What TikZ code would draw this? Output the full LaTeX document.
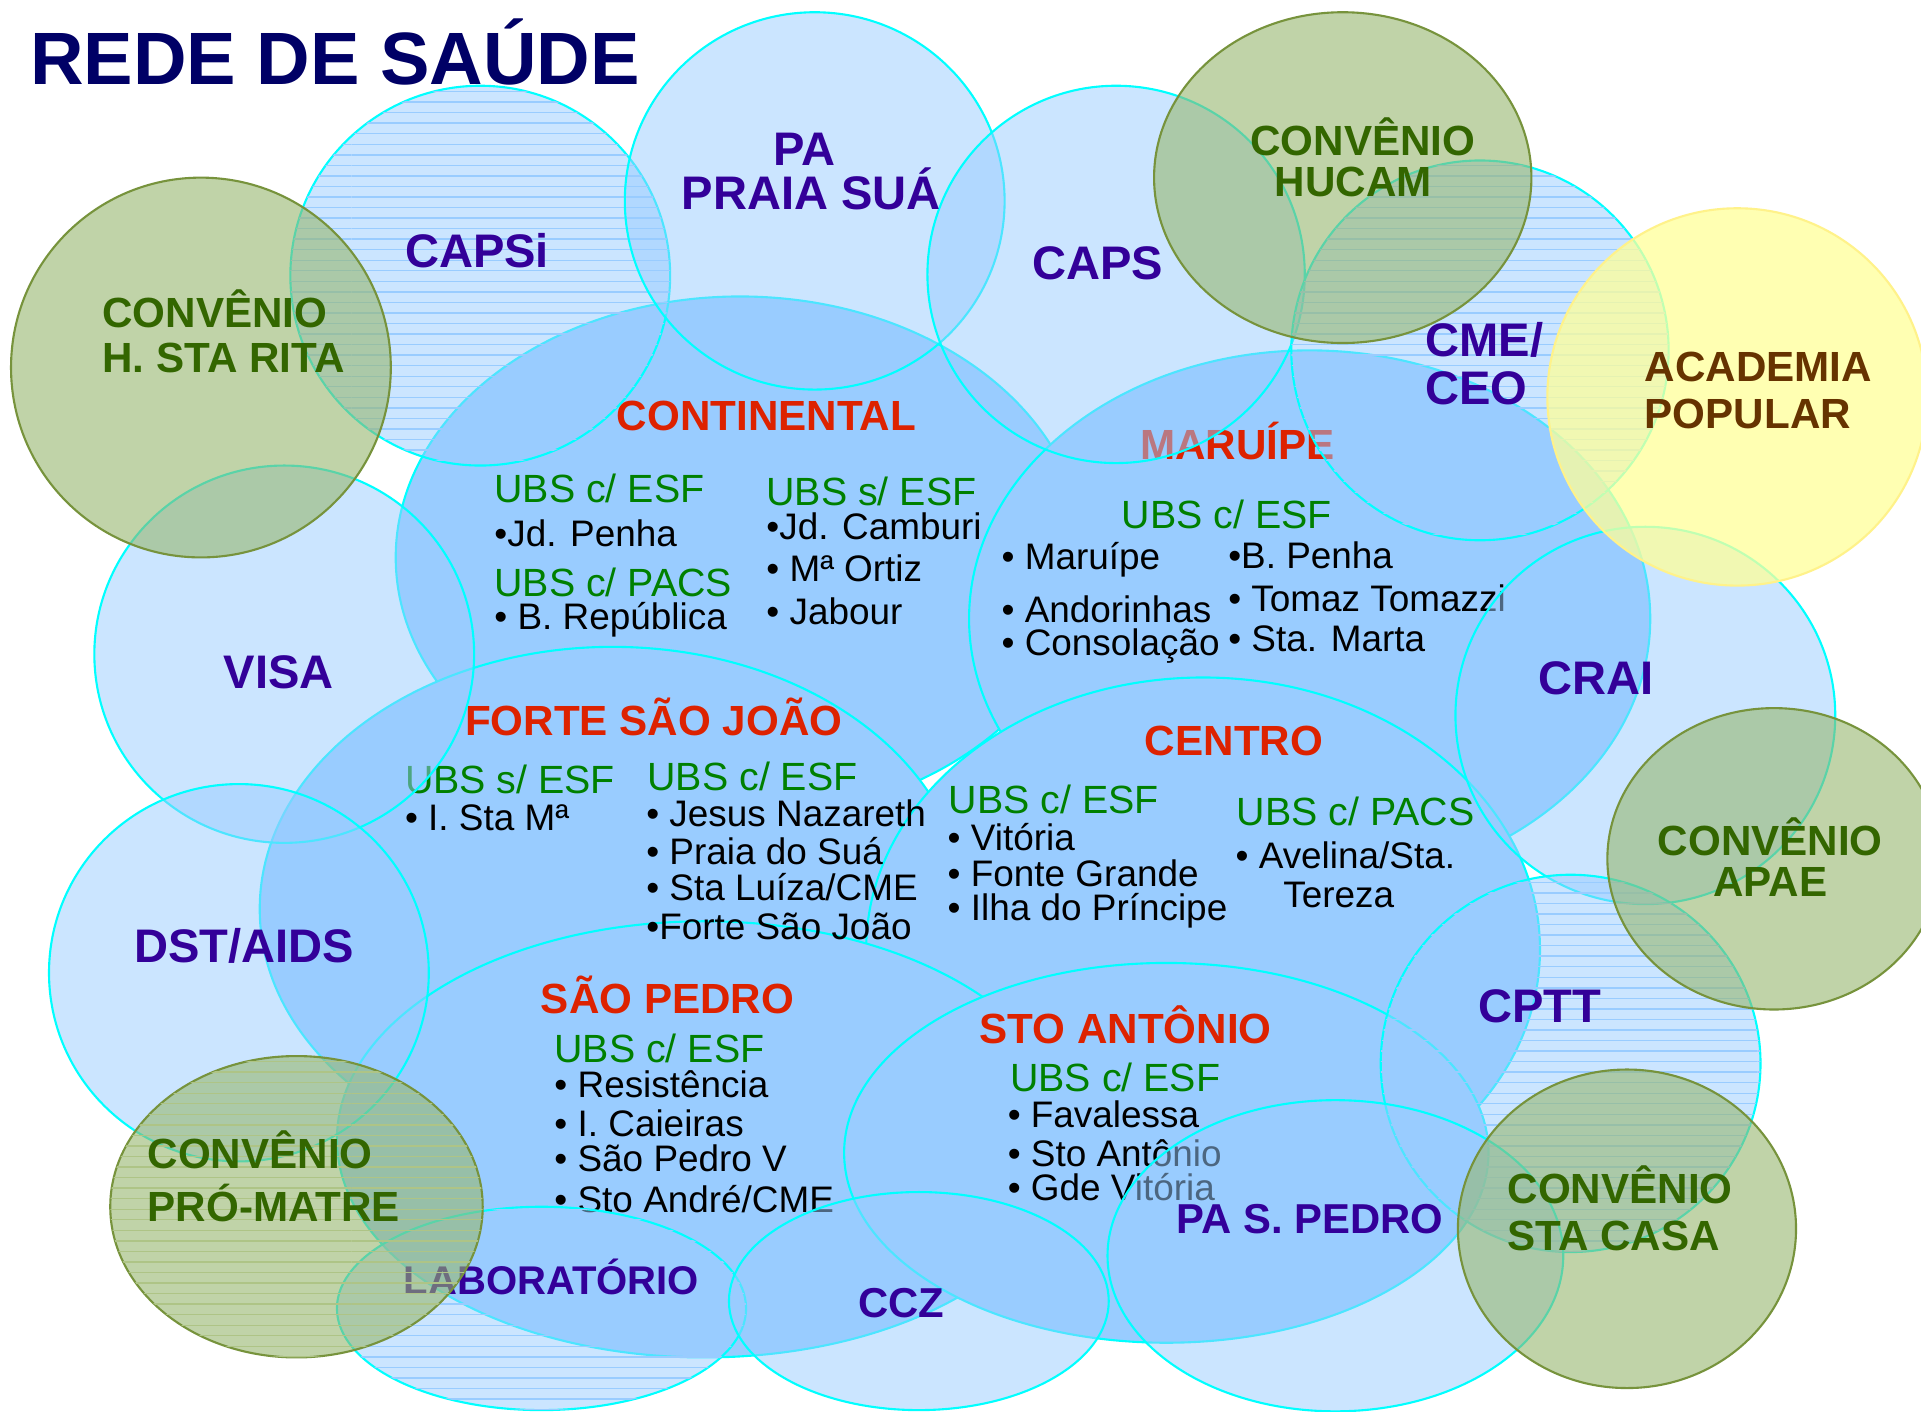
\documentclass[tikz,border=0pt]{standalone}
\usepackage{fontspec}
\setmainfont{Liberation Sans}
\usetikzlibrary{patterns}

\definecolor{skyb}{HTML}{99CCFF}
\definecolor{ringc}{HTML}{00FFFF}
\definecolor{navy}{HTML}{000066}
\definecolor{svcc}{HTML}{330099}
\definecolor{distc}{HTML}{DD2200}
\definecolor{ubsc}{HTML}{008000}
\definecolor{convc}{HTML}{336600}
\definecolor{acadc}{HTML}{663300}
\definecolor{olivef}{HTML}{96B76E}
\definecolor{olived}{HTML}{77933C}
\definecolor{olivel}{HTML}{AEC486}
\definecolor{lemon}{HTML}{FFFF99}
\newcommand{\fsz}[1]{\fontsize{#1pt}{#1pt}\selectfont}

\begin{document}
\begin{tikzpicture}[x=0.12251mm, y=-0.12251mm,
	dist/.style={fill=skyb, draw=ringc, line width=.6pt},
	svc/.style={fill=skyb, fill opacity=.5, draw=ringc, line width=.6pt},
	lined/.style={postaction={pattern=horizontal lines, pattern color=skyb, fill opacity=.5}},
	conv/.style={fill=olivef, fill opacity=.6, draw=olived, line width=.6pt},
	acad/.style={fill=lemon, fill opacity=.75, draw=lemon!90!orange, line width=.6pt},
	dname/.style={anchor=base west, inner sep=0pt, text=distc, font=\bfseries\fsz{12}},
	ubs/.style={anchor=base west, inner sep=0pt, text=ubsc, font=\fsz{11.2}},
	item/.style={anchor=base west, inner sep=0pt, font=\fsz{10.5}},
	sname/.style={anchor=base west, inner sep=0pt, text=svcc, font=\bfseries\fsz{13.4}},
	cname/.style={anchor=base west, inner sep=0pt, text=convc, font=\bfseries\fsz{12}}]
	\fill[white] (0,0) rectangle (1568,1152);
	\useasboundingbox (0,0) rectangle (1568,1152);

	% regioes
	\foreach \cx/\cy/\rx/\ry in {604/455/281/213, 1069/505/278/219, 500/742/288/214,
		982/775/275/222, 575/930/300/178, 952/941/263/155}
		\draw[dist] (\cx,\cy) ellipse [x radius=\rx, y radius=\ry];

	\node[dname] (contT) at (503,351) {CONTINENTAL};
	\node[ubs] (contU1) at (403,410) {UBS c/ ESF};
	\node[item] (contA1) at (403,446) {\textbullet Jd. Penha};
	\node[ubs] (contU2) at (403,487) {UBS c/ PACS};
	\node[item] (contA2) at (403,514) {\textbullet\ B. República};
	\node[ubs] (contU3) at (625,413) {UBS s/ ESF};
	\node[item] (contB1) at (625,440) {\textbullet Jd. Camburi};
	\node[item] (contB2) at (625,475) {\textbullet\ Mª Ortiz};
	\node[item] (contB3) at (625,510) {\textbullet\ Jabour};

	\node[dname] (marT) at (930,375) {MARUÍPE};
	\node[ubs] (marU) at (915,431) {UBS c/ ESF};
	\node[item] (marA1) at (817,465) {\textbullet\ Maruípe};
	\node[item] (marA2) at (817,508) {\textbullet\ Andorinhas};
	\node[item] (marA3) at (817,535) {\textbullet\ Consolação};
	\node[item] (marB1) at (1002,464) {\textbullet B. Penha};
	\node[item] (marB2) at (1002,499) {\textbullet\ Tomaz Tomazzi};
	\node[item] (marB3) at (1002,532) {\textbullet\ Sta. Marta};

	\node[dname] (fsjT) at (379,600) {FORTE SÃO JOÃO};
	\node[ubs] (fsjU1) at (330,648) {UBS s/ ESF};
	\node[item] (fsjA1) at (330,678) {\textbullet\ I. Sta Mª};
	\node[ubs] (fsjU2) at (528,645) {UBS c/ ESF};
	\node[item] (fsjB1) at (527,675) {\textbullet\ Jesus Nazareth};
	\node[item] (fsjB2) at (527,706) {\textbullet\ Praia do Suá};
	\node[item] (fsjB3) at (527,735) {\textbullet\ Sta Luíza/CME};
	\node[item] (fsjB4) at (527,767) {\textbullet Forte São João};

	\node[dname] (cenT) at (934,617) {CENTRO};
	\node[ubs] (cenU1) at (774,664) {UBS c/ ESF};
	\node[item] (cenA1) at (773,694) {\textbullet\ Vitória};
	\node[item] (cenA2) at (773,724) {\textbullet\ Fonte Grande};
	\node[item] (cenA3) at (773,751) {\textbullet\ Ilha do Príncipe};
	\node[ubs] (cenU2) at (1009,674) {UBS c/ PACS};
	\node[item] (cenB1) at (1008,709) {\textbullet\ Avelina/Sta.};
	\node[item] (cenB2) at (1047,741) {Tereza};

	\node[dname] (spT) at (441,827) {SÃO PEDRO};
	\node[ubs] (spU) at (452,867) {UBS c/ ESF};
	\node[item] (spA1) at (452,896) {\textbullet\ Resistência};
	\node[item] (spA2) at (452,928) {\textbullet\ I. Caieiras};
	\node[item] (spA3) at (452,956) {\textbullet\ São Pedro V};
	\node[item] (spA4) at (452,990) {\textbullet\ Sto André/CME};

	\node[dname] (saT) at (799,852) {STO ANTÔNIO};
	\node[ubs] (saU) at (824,891) {UBS c/ ESF};
	\node[item] (saA1) at (822,920) {\textbullet\ Favalessa};
	\node[item] (saA2) at (822,952) {\textbullet\ Sto Antônio};
	\node[item] (saA3) at (822,980) {\textbullet\ Gde Vitória};

	% servicos
	\draw[svc, lined] (392,225) ellipse [x radius=155, y radius=155];
	\draw[svc] (665,164) ellipse [x radius=155, y radius=154];
	\draw[svc] (911,224) ellipse [x radius=154, y radius=154];
	\draw[svc, lined] (1208,286) ellipse [x radius=154, y radius=155];
	\draw[svc] (232,534) ellipse [x radius=155, y radius=154];
	\draw[svc] (195,794) ellipse [x radius=155, y radius=154];
	\draw[svc] (1343,584) ellipse [x radius=155, y radius=154];
	\draw[svc, lined] (1282,868) ellipse [x radius=155, y radius=154];
	\draw[svc, lined] (442,1068) ellipse [x radius=167, y radius=83];
	\draw[svc] (750,1062) ellipse [x radius=155, y radius=89];
	\draw[svc] (1090,1025) ellipse [x radius=186, y radius=127];

	\node[sname] (capsi) at (330,218) {CAPSi};
	\node[sname] (pa1) at (631,135) {PA};
	\node[sname] (pa2) at (556,171) {PRAIA SUÁ};
	\node[sname] (caps) at (842,228) {CAPS};
	\node[sname] (cme1) at (1163,291) {CME/};
	\node[sname] (cme2) at (1163,330) {CEO};
	\node[sname] (visa) at (182,562) {VISA};
	\node[sname] (dst) at (109,786) {DST/AIDS};
	\node[sname] (crai) at (1255,567) {CRAI};
	\node[sname] (cptt) at (1206,835) {CPTT};
	\node[sname, font=\bfseries\fsz{11.4}] (lab) at (329,1057) {LABORATÓRIO};
	\node[sname, font=\bfseries\fsz{11.9}] (ccz) at (700,1075) {CCZ};
	\node[sname, font=\bfseries\fsz{11.9}] (pasp) at (960,1007) {PA S. PEDRO};

	% convenios
	\draw[conv] (164,300) ellipse [x radius=155, y radius=155];
	\draw[conv] (1096,145) ellipse [x radius=154, y radius=135];
	\draw[acad] (1418,324) ellipse [x radius=155, y radius=154];
	\draw[conv] (1448,701) ellipse [x radius=136, y radius=123];
	\draw[conv] (1328,1003) ellipse [x radius=138, y radius=130];
	\draw[conv, postaction={pattern=horizontal lines, pattern color=olivel}] (242,985) ellipse [x radius=152, y radius=123];

	\node[cname] (rita1) at (83,267) {CONVÊNIO};
	\node[cname] (rita2) at (83,304) {H. STA RITA};
	\node[cname] (hucam1) at (1020,127) {CONVÊNIO};
	\node[cname] (hucam2) at (1040,160) {HUCAM};
	\node[cname, text=acadc] (acad1) at (1342,311) {ACADEMIA};
	\node[cname, text=acadc] (acad2) at (1342,350) {POPULAR};
	\node[cname, anchor=base] (apae1) at (1445,698) {CONVÊNIO};
	\node[cname, anchor=base] (apae2) at (1445,732) {APAE};
	\node[cname] (casa1) at (1230,982) {CONVÊNIO};
	\node[cname] (casa2) at (1230,1021) {STA CASA};
	\node[cname] (matre1) at (120,954) {CONVÊNIO};
	\node[cname] (matre2) at (120,997) {PRÓ-MATRE};

	\node[anchor=base west, inner sep=0pt, text=navy, font=\bfseries\fsz{21.1}] (title) at (24,69) {REDE DE SAÚDE};
\end{tikzpicture}
\end{document}
